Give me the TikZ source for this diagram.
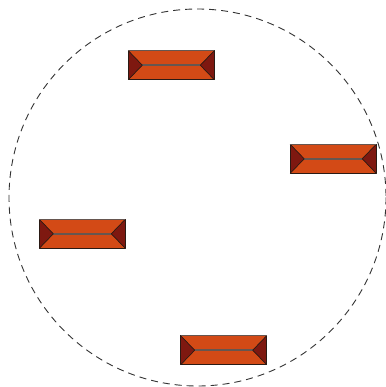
\documentclass[tikz,border=0pt]{standalone}
\usepackage{tikz}
\definecolor{brickface}{HTML}{D34A16}
\definecolor{brickend}{HTML}{7E1810}
\definecolor{brickedge}{HTML}{2A1A14}
\definecolor{brickseam}{HTML}{665650}
\tikzset{
  pics/brick/.style={code={
    \fill[brickface] (-43,-14.5) rectangle (43,14.5);
    \fill[brickend] (-43,-14.5) -- (-29,0) -- (-43,14.5) -- cycle;
    \fill[brickend] (43,-14.5) -- (29,0) -- (43,14.5) -- cycle;
    \draw[brickseam,line width=1.6pt] (-29,0) -- (29,0);
    \draw[brickedge,line width=0.7pt] (-43,-14.5) -- (-29,0) -- (-43,14.5);
    \draw[brickedge,line width=0.7pt] (43,-14.5) -- (29,0) -- (43,14.5);
    \draw[brickedge,line width=1.2pt] (-43,-14.5) rectangle (43,14.5);
    \draw[brickseam,line width=1.2pt] (-43,-14.5) -- (43,-14.5);
  }}
}
\begin{document}
\begin{tikzpicture}[x=1pt,y=-1pt,line join=round]
  \useasboundingbox (0,0) rectangle (385,387);
  \def\R{188.5}
  \coordinate (O) at (197.5,197.5);
  \draw[line width=0.9pt,dash pattern=on 7pt off 5pt,black!80] (O) circle (\R);
  \pic at (171.3,65.2) {brick};
  \pic at (333.2,158.8) {brick};
  \pic at (82.3,233.8) {brick};
  \pic at (223.7,350.2) {brick};
\end{tikzpicture}
\end{document}
